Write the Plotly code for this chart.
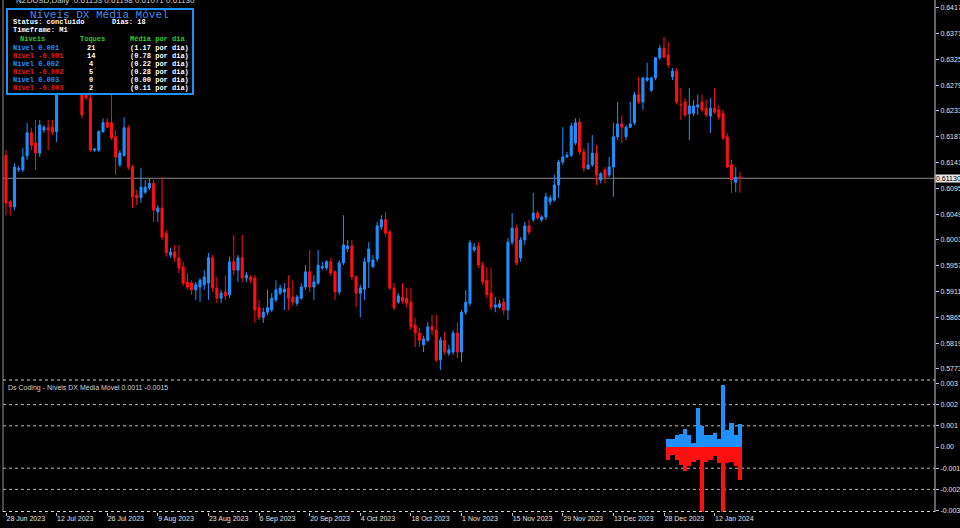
import plotly.graph_objects as go

# ---------------- data ----------------
tick_idx = [0, 12, 24, 36, 48, 60, 72, 84, 96, 108, 120, 132, 144, 156, 168]
tick_labels = ["28 Jun 2023", "12 Jul 2023", "26 Jul 2023", "9 Aug 2023", "23 Aug 2023",
               "6 Sep 2023", "20 Sep 2023", "4 Oct 2023", "18 Oct 2023", "1 Nov 2023",
               "15 Nov 2023", "29 Nov 2023", "13 Dec 2023", "28 Dec 2023", "12 Jan 2024"]

opens = [0.6154, 0.6071, 0.6062, 0.6128, 0.6128, 0.6153, 0.6194, 0.6176, 0.6158, 0.6199,
         0.6203, 0.6204, 0.6196, 0.6279, 0.6369, 0.6386, 0.6392, 0.6342, 0.6306, 0.6267,
         0.6256, 0.6163, 0.6163, 0.6196, 0.6213, 0.6212, 0.6187, 0.6137, 0.6154, 0.6203,
         0.6133, 0.6083, 0.6078, 0.6088, 0.6096, 0.6104, 0.6053, 0.6060, 0.6015, 0.5976,
         0.5981, 0.5971, 0.5955, 0.5928, 0.5926, 0.5914, 0.5919, 0.5923, 0.5926, 0.5971,
         0.5917, 0.5899, 0.5910, 0.5905, 0.5964, 0.5949, 0.5971, 0.5935, 0.5937, 0.5935,
         0.5882, 0.5865, 0.5874, 0.5878, 0.5896, 0.5908, 0.5910, 0.5917, 0.5901, 0.5890,
         0.5899, 0.5919, 0.5946, 0.5919, 0.5926, 0.5953, 0.5953, 0.5964, 0.5946, 0.5910,
         0.5962, 0.5987, 0.5992, 0.5937, 0.5908, 0.5915, 0.5964, 0.5955, 0.5969, 0.6026,
         0.6039, 0.6017, 0.5917, 0.5892, 0.5901, 0.5899, 0.5892, 0.5851, 0.5837, 0.5816,
         0.5824, 0.5848, 0.5842, 0.5789, 0.5824, 0.5801, 0.5803, 0.5837, 0.5803, 0.5874,
         0.5890, 0.5985, 0.5992, 0.5958, 0.5931, 0.5908, 0.5883, 0.5883, 0.5892, 0.5878,
         0.5999, 0.6024, 0.5971, 0.6003, 0.6028, 0.6039, 0.6051, 0.6039, 0.6044, 0.6071,
         0.6074, 0.6101, 0.6142, 0.6151, 0.6154, 0.6176, 0.6213, 0.6160, 0.6130, 0.6137,
         0.6158, 0.6110, 0.6128, 0.6119, 0.6133, 0.6187, 0.6210, 0.6187, 0.6204, 0.6212,
         0.6262, 0.6249, 0.6288, 0.6270, 0.6292, 0.6328, 0.6345, 0.6333, 0.6294, 0.6304,
         0.6245, 0.6249, 0.6228, 0.6229, 0.6240, 0.6249, 0.6238, 0.6224, 0.6238, 0.6235,
         0.6229, 0.6187, 0.6137, 0.6106, 0.6115]
highs = [0.6163, 0.6074, 0.6140, 0.6135, 0.6167, 0.6212, 0.6203, 0.6217, 0.6217, 0.6208,
         0.6217, 0.6217, 0.6288, 0.6386, 0.6413, 0.6395, 0.6404, 0.6360, 0.6324, 0.6274,
         0.6262, 0.6167, 0.6199, 0.6220, 0.6220, 0.6262, 0.6199, 0.6163, 0.6222, 0.6208,
         0.6137, 0.6092, 0.6131, 0.6110, 0.6113, 0.6110, 0.6065, 0.6115, 0.6021, 0.5989,
         0.5994, 0.5994, 0.5964, 0.5944, 0.5931, 0.5928, 0.5935, 0.5949, 0.5980, 0.5976,
         0.5937, 0.5914, 0.5940, 0.5973, 0.6012, 0.5976, 0.6012, 0.5946, 0.5940, 0.5940,
         0.5896, 0.5882, 0.5914, 0.5908, 0.5931, 0.5923, 0.5926, 0.5940, 0.5931, 0.5905,
         0.5926, 0.5958, 0.5985, 0.5940, 0.5985, 0.5964, 0.5967, 0.5971, 0.5949, 0.5967,
         0.6047, 0.6003, 0.6003, 0.5940, 0.5923, 0.5971, 0.5999, 0.5976, 0.6035, 0.6047,
         0.6053, 0.6021, 0.5926, 0.5908, 0.5926, 0.5917, 0.5917, 0.5864, 0.5846, 0.5832,
         0.5857, 0.5869, 0.5869, 0.5830, 0.5839, 0.5816, 0.5842, 0.5855, 0.5878, 0.5914,
         0.6003, 0.5998, 0.5999, 0.5964, 0.5955, 0.5953, 0.5901, 0.5896, 0.5899, 0.6006,
         0.6051, 0.6030, 0.6008, 0.6035, 0.6039, 0.6087, 0.6056, 0.6047, 0.6087, 0.6083,
         0.6119, 0.6146, 0.6204, 0.6160, 0.6212, 0.6220, 0.6220, 0.6167, 0.6176, 0.6190,
         0.6172, 0.6124, 0.6133, 0.6151, 0.6212, 0.6249, 0.6226, 0.6208, 0.6249, 0.6267,
         0.6294, 0.6294, 0.6319, 0.6294, 0.6329, 0.6351, 0.6365, 0.6356, 0.6310, 0.6310,
         0.6274, 0.6256, 0.6274, 0.6253, 0.6262, 0.6262, 0.6253, 0.6256, 0.6274, 0.6244,
         0.6235, 0.6194, 0.6146, 0.6133, 0.6124]
lows = [0.6047, 0.6046, 0.6056, 0.6124, 0.6124, 0.6146, 0.6163, 0.6128, 0.6151, 0.6194,
        0.6163, 0.6190, 0.6178, 0.6274, 0.6360, 0.6383, 0.6333, 0.6288, 0.6220, 0.6253,
        0.6160, 0.6160, 0.6160, 0.6194, 0.6203, 0.6181, 0.6119, 0.6133, 0.6151, 0.6128,
        0.6060, 0.6065, 0.6069, 0.6085, 0.6092, 0.6035, 0.6035, 0.6003, 0.5973, 0.5971,
        0.5964, 0.5944, 0.5921, 0.5914, 0.5905, 0.5896, 0.5892, 0.5914, 0.5896, 0.5910,
        0.5890, 0.5890, 0.5896, 0.5899, 0.5940, 0.5928, 0.5928, 0.5928, 0.5926, 0.5855,
        0.5860, 0.5855, 0.5869, 0.5874, 0.5892, 0.5905, 0.5878, 0.5878, 0.5885, 0.5885,
        0.5896, 0.5914, 0.5910, 0.5896, 0.5923, 0.5949, 0.5949, 0.5939, 0.5896, 0.5905,
        0.5958, 0.5981, 0.5931, 0.5883, 0.5865, 0.5896, 0.5917, 0.5953, 0.5964, 0.6021,
        0.6010, 0.5914, 0.5878, 0.5889, 0.5889, 0.5882, 0.5842, 0.5812, 0.5812, 0.5803,
        0.5821, 0.5833, 0.5785, 0.5771, 0.5798, 0.5796, 0.5798, 0.5792, 0.5785, 0.5869,
        0.5885, 0.5981, 0.5953, 0.5923, 0.5899, 0.5878, 0.5874, 0.5880, 0.5869, 0.5860,
        0.5994, 0.5958, 0.5964, 0.5994, 0.6012, 0.6035, 0.6039, 0.6035, 0.6039, 0.6065,
        0.6071, 0.6078, 0.6137, 0.6149, 0.6151, 0.6172, 0.6154, 0.6124, 0.6128, 0.6133,
        0.6101, 0.6104, 0.6104, 0.6115, 0.6080, 0.6181, 0.6176, 0.6181, 0.6203, 0.6208,
        0.6245, 0.6235, 0.6285, 0.6267, 0.6288, 0.6324, 0.6328, 0.6310, 0.6288, 0.6245,
        0.6217, 0.6222, 0.6181, 0.6224, 0.6226, 0.6231, 0.6222, 0.6194, 0.6228, 0.6217,
        0.6181, 0.6131, 0.6087, 0.6088, 0.6087]
closes = [0.6069, 0.6062, 0.6133, 0.6130, 0.6151, 0.6194, 0.6172, 0.6158, 0.6208, 0.6204,
          0.6199, 0.6196, 0.6279, 0.6369, 0.6386, 0.6392, 0.6342, 0.6306, 0.6226, 0.6256,
          0.6163, 0.6165, 0.6196, 0.6212, 0.6204, 0.6185, 0.6151, 0.6158, 0.6203, 0.6133,
          0.6080, 0.6078, 0.6097, 0.6097, 0.6104, 0.6056, 0.6060, 0.6008, 0.5980, 0.5981,
          0.5971, 0.5953, 0.5926, 0.5919, 0.5914, 0.5923, 0.5931, 0.5937, 0.5971, 0.5917,
          0.5899, 0.5908, 0.5903, 0.5964, 0.5949, 0.5971, 0.5935, 0.5940, 0.5931, 0.5878,
          0.5865, 0.5874, 0.5882, 0.5899, 0.5914, 0.5917, 0.5915, 0.5899, 0.5892, 0.5901,
          0.5919, 0.5946, 0.5919, 0.5928, 0.5958, 0.5955, 0.5964, 0.5944, 0.5910, 0.5962,
          0.5994, 0.5992, 0.5937, 0.5908, 0.5917, 0.5964, 0.5987, 0.5967, 0.6028, 0.6039,
          0.6015, 0.5917, 0.5882, 0.5903, 0.5894, 0.5890, 0.5848, 0.5837, 0.5824, 0.5826,
          0.5848, 0.5842, 0.5789, 0.5824, 0.5803, 0.5807, 0.5837, 0.5803, 0.5874, 0.5892,
          0.5998, 0.5990, 0.5958, 0.5928, 0.5905, 0.5883, 0.5887, 0.5889, 0.5878, 0.5999,
          0.6024, 0.5962, 0.6003, 0.6028, 0.6017, 0.6051, 0.6042, 0.6044, 0.6080, 0.6078,
          0.6101, 0.6142, 0.6151, 0.6154, 0.6206, 0.6212, 0.6160, 0.6131, 0.6137, 0.6158,
          0.6119, 0.6121, 0.6115, 0.6133, 0.6187, 0.6210, 0.6204, 0.6204, 0.6210, 0.6262,
          0.6249, 0.6292, 0.6292, 0.6292, 0.6328, 0.6345, 0.6329, 0.6315, 0.6304, 0.6249,
          0.6244, 0.6226, 0.6242, 0.6242, 0.6244, 0.6235, 0.6226, 0.6238, 0.6231, 0.6222,
          0.6185, 0.6133, 0.6110, 0.6115, 0.6113]

price_ticks = [0.6417, 0.6371, 0.6325, 0.6279, 0.6233, 0.6187, 0.6141, 0.6095, 0.6049,
               0.6003, 0.5957, 0.5911, 0.5865, 0.5819, 0.5773]

# indicator (last 18 days)
ind_pos = [0.00039, 0.00039, 0.00055, 0.00063, 0.00083, 0.00058, 0.00020, 0.00186, 0.00097,
           0.00058, 0.00058, 0.00066, 0.00036, 0.00292, 0.00079, 0.00115, 0.00058, 0.00107]
ind_neg = [-0.00063, -0.00039, -0.00063, -0.00086, -0.00113, -0.00091, -0.00071, -0.00060, -0.00350,
           -0.00071, -0.00060, -0.00044, -0.00075, -0.00350, -0.00075, -0.00071, -0.00091, -0.00154]
ind_ticks = [0.003, 0.002, 0.001, 0.0, -0.001, -0.002, -0.003]
ind_tick_labels = ["0.003", "0.002", "0.001", "0.00", "-0.001", "-0.002", "-0.003"]
ind_grid = [0.002, 0.001, -0.001, -0.002]

levels = ["Nivel 0.001", "Nivel -0.001", "Nivel 0.002", "Nivel -0.002", "Nivel 0.003", "Nivel -0.003"]
touches = [21, 14, 4, 5, 0, 2]
per_day = ["(1.17 por dia)", "(0.78 por dia)", "(0.22 por dia)", "(0.28 por dia)",
           "(0.00 por dia)", "(0.11 por dia)"]
days = 18

# ---------------- styling ----------------
BLUE = "#1e90ff"
RED = "#ff1010"
W, H = 960, 528
ML, MR, MT, MB = 3, 25, 0, 16
PW, PH = W - ML - MR, H - MT - MB


def px(x):
    return (x - ML) / PW


def py(y):
    return 1 - (y - MT) / PH


n = len(closes)
x_idx = list(range(n))
hist_x = x_idx[n - days:]

fig = go.Figure()
fig.add_trace(go.Candlestick(
    x=x_idx, open=opens, high=highs, low=lows, close=closes,
    increasing=dict(line=dict(color=BLUE, width=1), fillcolor=BLUE),
    decreasing=dict(line=dict(color=RED, width=1), fillcolor=RED),
    whiskerwidth=0, xaxis="x", yaxis="y", showlegend=False, hoverinfo="skip"))

fig.add_trace(go.Bar(x=hist_x, y=ind_pos, marker=dict(color=BLUE, line=dict(width=0)),
                     xaxis="x", yaxis="y2", showlegend=False, hoverinfo="skip"))
fig.add_trace(go.Bar(x=hist_x, y=ind_neg, marker=dict(color=RED, line=dict(width=0)),
                     xaxis="x", yaxis="y2", showlegend=False, hoverinfo="skip"))

x0 = -3 / 4.218
x1 = x0 + PW / 4.218
main_bottom_px = 379
sub_top_px = 381
sub_bottom_px = 512
p_top = 0.6431
p_scale = 0.0001784
i_zero_px = 447
i_scale = 0.001 / 21.2

fig.update_layout(
    width=W, height=H,
    margin=dict(l=ML, r=MR, t=MT, b=MB, autoexpand=False),
    paper_bgcolor="black", plot_bgcolor="black",
    barmode="overlay", bargap=0,
    font=dict(family="Liberation Sans", size=7, color="#d8d8d8"),
    xaxis=dict(domain=[0, 1], anchor="y2", range=[x0, x1], showgrid=False, zeroline=False,
               tickvals=tick_idx, ticktext=tick_labels, ticklabelposition="outside right",
               ticks="outside", ticklen=3, tickcolor="#c0c0c0",
               tickfont=dict(size=7, color="#e0e0e0"),
               rangeslider=dict(visible=False), showline=False, fixedrange=True),
    yaxis=dict(domain=[py(main_bottom_px), 1], anchor="x", side="right",
               range=[p_top - p_scale * (main_bottom_px - MT), p_top],
               tickvals=price_ticks, ticktext=[f"{v:.5f}" for v in price_ticks],
               ticks="outside", ticklen=3, tickcolor="#c0c0c0",
               showgrid=False, zeroline=False, tickfont=dict(size=7, color="#e0e0e0")),
    yaxis2=dict(domain=[0, py(sub_top_px)], anchor="x", side="right",
                range=[(i_zero_px - sub_bottom_px) * i_scale, (i_zero_px - sub_top_px) * i_scale],
                tickvals=ind_ticks, ticktext=ind_tick_labels,
                ticks="outside", ticklen=3, tickcolor="#c0c0c0",
                showgrid=False, zeroline=False, tickfont=dict(size=7, color="#e0e0e0")),
)

shapes = []
# indicator grid lines (dotted)
for g in ind_grid:
    shapes.append(dict(type="line", xref="paper", x0=0, x1=1, yref="y2", y0=g, y1=g,
                       line=dict(color="#b8b8b8", width=1, dash="dot"), layer="below"))
# current price line
shapes.append(dict(type="line", xref="paper", x0=0, x1=1, yref="y", y0=closes[-1], y1=closes[-1],
                   line=dict(color="#8a8a8a", width=1), layer="below"))
# borders
shapes.append(dict(type="line", xref="paper", yref="paper", x0=1, x1=1, y0=0, y1=1,
                   line=dict(color="#c8c8c8", width=1)))
shapes.append(dict(type="line", xref="paper", yref="paper", x0=0, x1=0, y0=0, y1=1,
                   line=dict(color="#909090", width=1)))
shapes.append(dict(type="line", xref="paper", yref="paper", x0=0, x1=1, y0=py(380), y1=py(380),
                   line=dict(color="#d0d0d0", width=1, dash="dot")))
shapes.append(dict(type="line", xref="paper", yref="paper", x0=0, x1=1, y0=py(511.5), y1=py(511.5),
                   line=dict(color="#d0d0d0", width=1, dash="dot")))
# info box
shapes.append(dict(type="rect", xref="paper", yref="paper", x0=px(7), x1=px(193), y0=py(94), y1=py(9),
                   fillcolor="black", line=dict(color=BLUE, width=2)))
fig.update_layout(shapes=shapes)

ann = []
MONO = "Liberation Mono"


def txt(x, y, s, color, size=7, anchor="left", bold=False, family=MONO):
    if bold:
        s = f"<b>{s}</b>"
    ann.append(dict(xref="paper", yref="paper", x=px(x), y=py(y), text=s, showarrow=False,
                    xanchor=anchor, yanchor="middle", font=dict(family=family, size=size, color=color)))


txt(99, 14.5, "Níveis DX Média Móvel", "#4a8ae6", size=11, anchor="center")
txt(11, 21.5, "Status: concluido", "white", bold=True)
txt(110, 21.5, f"Dias: {days}", "white", bold=True)
txt(11, 29.5, "Timeframe: M1", "white", bold=True)
txt(18, 39, "Níveis", "#2ecc2e", bold=True)
txt(92, 39, "Toques", "#2ecc2e", anchor="center", bold=True)
txt(128, 39, "Média por dia", "#2ecc2e", bold=True)
row_y = [48, 55.5, 63.5, 71.5, 79.5, 87.5]
for k in range(len(levels)):
    col = BLUE if k % 2 == 0 else "#e01818"
    txt(11, row_y[k], levels[k], col, bold=True)
    txt(91, row_y[k], str(touches[k]), "white", anchor="center", bold=True)
    txt(128, row_y[k], per_day[k], "white", bold=True)

# header strip text partially hidden at the very top
txt(14, 0, "NZDUSD,Daily  0.61153 0.61198 0.61071 0.61130", "#cfcfcf", size=8, family="Liberation Sans")

# indicator title
txt(6, 388, f"Ds Coding - Níveis DX Média Móvel {ind_pos[-1]:.4f} {ind_neg[-1]:.4f}", "#d0d0d0",
    size=7, family="Liberation Sans")

# current price label
ann.append(dict(xref="paper", yref="y", x=1, y=closes[-1], text=f"{closes[-1]:.5f}", showarrow=False,
                xanchor="left", yanchor="middle", bgcolor="#e8e8e8",
                font=dict(family="Liberation Sans", size=7, color="black"), borderpad=0))
fig.update_layout(annotations=ann)

fig.write_html("out.html", config={"displayModeBar": False},
               post_script="document.body.style.margin='0';document.body.style.padding='0';"
                           "document.body.style.background='black';document.body.style.overflow='hidden';")
